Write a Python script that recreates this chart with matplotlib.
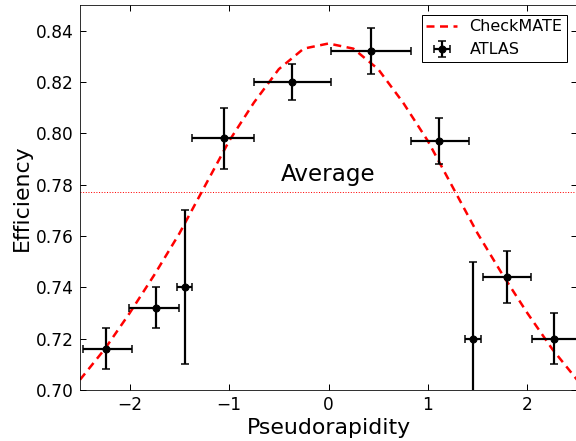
import numpy as np
import matplotlib
matplotlib.use("Agg")
import matplotlib.pyplot as plt

# ATLAS measurement (bin edges in eta, efficiency, error)
eta_lo = [-2.47, -2.01, -1.52, -1.37, -0.75, 0.03, 0.83, 1.37, 1.55, 2.05]
eta_hi = [-1.98, -1.50, -1.37, -0.75, 0.03, 0.83, 1.41, 1.53, 2.04, 2.50]
eta_c = [-2.24, -1.74, -1.44, -1.05, -0.37, 0.43, 1.115, 1.45, 1.80, 2.27]
eff = [0.716, 0.732, 0.740, 0.798, 0.820, 0.832, 0.797, 0.720, 0.744, 0.720]
eff_err = [0.008, 0.008, 0.030, 0.012, 0.007, 0.009, 0.009, 0.030, 0.010, 0.010]

# CheckMATE curve
cm_eta = [-2.5, -2.25, -2.0, -1.75, -1.5, -1.25, -1.0, -0.75, -0.5, -0.25, 0.0,
          0.25, 0.5, 0.75, 1.0, 1.25, 1.5, 1.75, 2.0, 2.25, 2.5]
cm_eff = [0.704, 0.716, 0.730, 0.745, 0.761, 0.779, 0.797, 0.812, 0.825, 0.833, 0.835,
          0.833, 0.825, 0.812, 0.797, 0.779, 0.761, 0.745, 0.730, 0.716, 0.704]

average = 0.777

fig = plt.figure(figsize=(8, 6.125), dpi=72)
ax = fig.add_axes([80 / 576, 51 / 441, 497 / 576, 385 / 441])

xerr_lo = np.array(eta_c) - np.array(eta_lo)
xerr_hi = np.array(eta_hi) - np.array(eta_c)

ax.plot(cm_eta, cm_eff, "r--", lw=2.5, dashes=(3.2, 2.2), label="CheckMATE")
ax.errorbar(eta_c, eff, yerr=eff_err, xerr=[xerr_lo, xerr_hi], fmt="o", color="k",
            ms=7, lw=2.2, capsize=4, capthick=1.5, label="ATLAS")
ax.axhline(average, color="r", ls=":", lw=1)
ax.text(0.0, 0.7795, "Average", fontsize=23, ha="center", va="bottom")

ax.set_xlim(-2.5, 2.5)
ax.set_ylim(0.70, 0.85)
ax.set_xticks([-2, -1, 0, 1, 2])
ax.set_xticklabels(["\u22122", "\u22121", "0", "1", "2"])
ax.set_yticks([0.70, 0.72, 0.74, 0.76, 0.78, 0.80, 0.82, 0.84])
ax.set_yticklabels(["0.70", "0.72", "0.74", "0.76", "0.78", "0.80", "0.82", "0.84"])
ax.tick_params(direction="in", top=True, right=True, labelsize=17, length=6, width=1, pad=6)
ax.set_xlabel("Pseudorapidity", fontsize=22)
ax.set_ylabel("Efficiency", fontsize=22)

leg = ax.legend(loc="upper right", fontsize=16, fancybox=False, framealpha=1,
                edgecolor="k", handlelength=1.9, borderaxespad=0.6, borderpad=0.3)
leg.get_frame().set_linewidth(1)

fig.savefig("out.png", dpi=72)
